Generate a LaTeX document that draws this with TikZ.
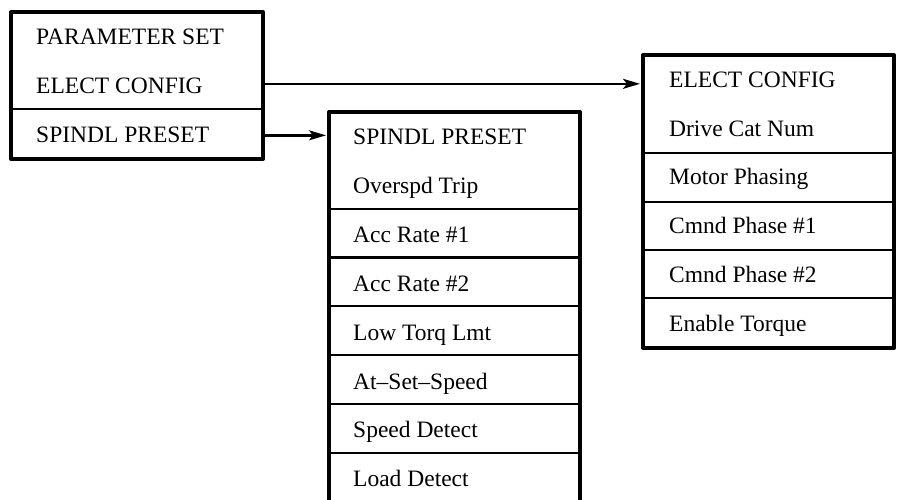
\documentclass[tikz,border=0pt]{standalone}
\usepackage{fontspec}
\setmainfont{Liberation Serif}
\usetikzlibrary{arrows.meta}
\begin{document}
\begin{tikzpicture}[x=1pt, y=-1pt,
  menubox/.style={draw, line width=4pt, line join=round, rectangle, anchor=north west, inner sep=0pt, outer sep=0pt},
  divider/.style={line width=2.4pt},
  item/.style={anchor=base west, inner sep=0pt, font=\fontsize{23.5}{28}\selectfont},
  arr/.style={line width=2.4pt, -{Stealth[length=17pt, width=10pt, inset=4pt]}, shorten >=3pt}
]
\useasboundingbox (0,0) rectangle (898,500);
\clip (0,0) rectangle (898,500);

% top-level parameter menu
\node[menubox, minimum width=252pt, minimum height=147pt] (lbox) at (11,12) {};
\draw[divider] (11,109) -- (263,109);
\node[item] (lparam) at (36,45) {PARAMETER SET};
\node[item] (lelect) at (36,94) {ELECT CONFIG};
\node[item] (lspin) at (36,143) {SPINDL PRESET};

% spindle preset submenu
\node[menubox, minimum width=251pt, minimum height=391pt] (mbox) at (329,112) {};
\foreach \yy in {209,257.5,306,355,404,453} \draw[divider] (329,\yy) -- (580,\yy);
\node[item] (m1) at (353,145) {SPINDL PRESET};
\node[item] (m2) at (353,194) {Overspd Trip};
\node[item] (m3) at (353,243) {Acc Rate \#1};
\node[item] (m4) at (353,291) {Acc Rate \#2};
\node[item] (m5) at (353,340) {Low Torq Lmt};
\node[item] (m6) at (353,389) {At--Set--Speed};
\node[item] (m7) at (353,437) {Speed Detect};
\node[item] (m8) at (353,486) {Load Detect};

% electrical configuration submenu
\node[menubox, minimum width=251pt, minimum height=293pt] (rbox) at (643,55) {};
\foreach \yy in {153,202,250,298} \draw[divider] (643,\yy) -- (894,\yy);
\node[item] (r1) at (669,88) {ELECT CONFIG};
\node[item] (r2) at (669,137) {Drive Cat Num};
\node[item] (r3) at (669,185) {Motor Phasing};
\node[item] (r4) at (669,234) {Cmnd Phase \#1};
\node[item] (r5) at (669,282) {Cmnd Phase \#2};
\node[item] (r6) at (669,331) {Enable Torque};

% menu links
\draw[arr] ([yshift=2.5pt]lelect.center -| lbox.east) -- ([yshift=2.5pt]lelect.center -| rbox.west);
\draw[arr] (lspin -| lbox.east) -- (lspin -| mbox.west);
\end{tikzpicture}
\end{document}
